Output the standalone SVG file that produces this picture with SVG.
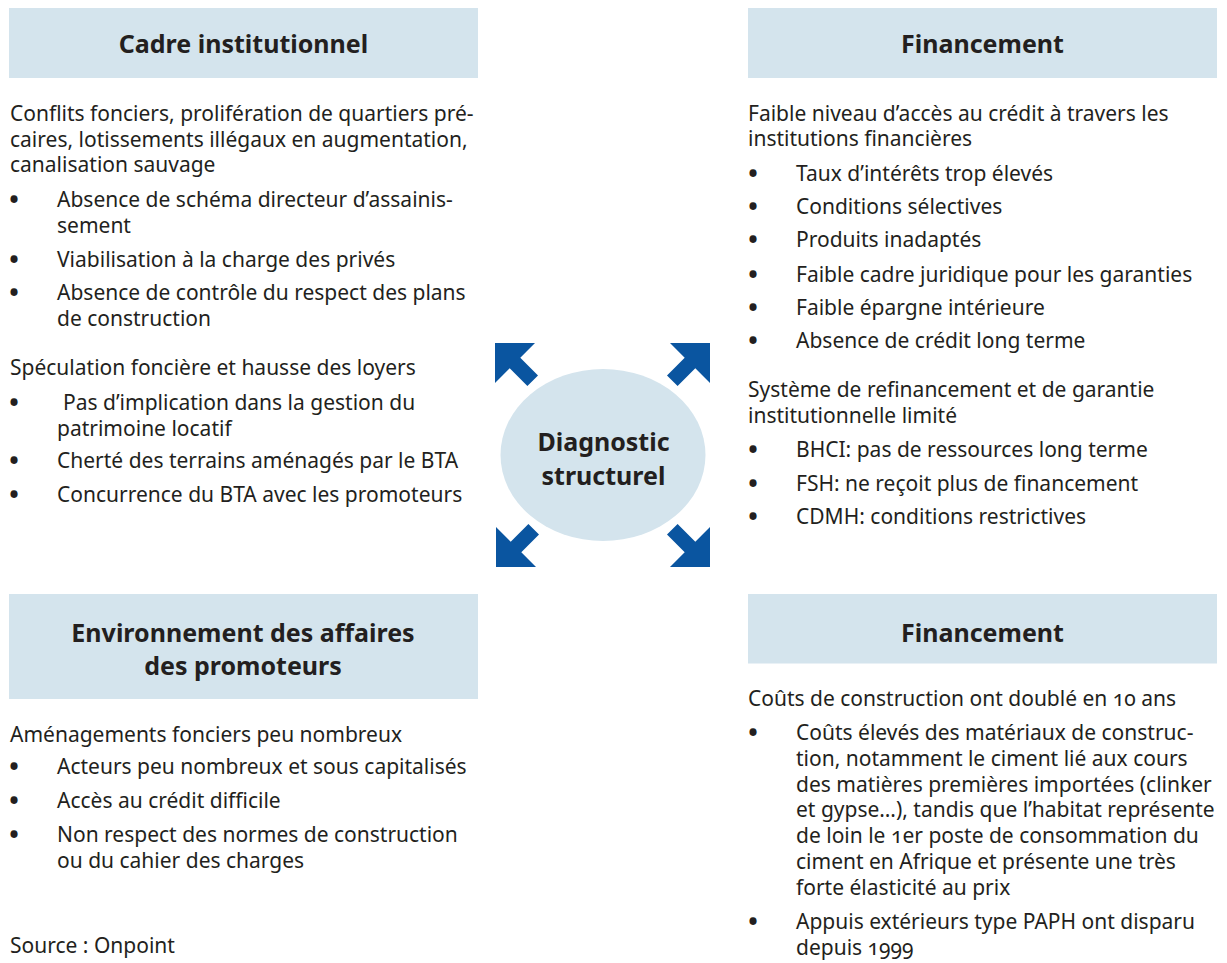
<svg xmlns="http://www.w3.org/2000/svg" xmlns:xlink="http://www.w3.org/1999/xlink" width="1227" height="963" viewBox="0 0 1227 963">
<style>
.hdr{fill:#d4e4ed}
.h{font-family:"Noto Sans","Open Sans",sans-serif;font-weight:700;font-size:25px;fill:#231f20;text-anchor:middle}
.t{font-family:"Noto Sans","Open Sans",sans-serif;font-size:21px;fill:#231f20;font-variant-numeric:oldstyle-nums}
.b{font-family:"Noto Sans","Open Sans",sans-serif;font-size:24px;fill:#231f20;stroke:#231f20;stroke-width:1.8px;text-anchor:middle}
.arrow{fill:#0a55a0}
</style>
<defs>
<polygon id="arr" points="0,0 40,0 25.3,14.7 43,32.4 32.4,43 14.7,25.3 0,40"/>
</defs>
<rect width="1227" height="963" fill="#ffffff"/>

<g id="cadre-institutionnel">
<rect class="hdr" x="9" y="8" width="469" height="70"/>
<text class="h" x="243.5" y="53">Cadre institutionnel</text>
<text class="t" x="10" y="121">Conflits fonciers, prolifération de quartiers pré-</text>
<text class="t" x="10" y="146.5">caires, lotissements illégaux en augmentation,</text>
<text class="t" x="10" y="172">canalisation sauvage</text>
<text class="b" x="14" y="207.7">•</text>
<text class="t" x="57" y="206.7">Absence de schéma directeur d’assainis-</text>
<text class="t" x="57" y="232.5">sement</text>
<text class="b" x="14" y="268">•</text>
<text class="t" x="57" y="267">Viabilisation à la charge des privés</text>
<text class="b" x="14" y="301">•</text>
<text class="t" x="57" y="300">Absence de contrôle du respect des plans</text>
<text class="t" x="57" y="326">de construction</text>
<text class="t" x="10" y="375">Spéculation foncière et hausse des loyers</text>
<text class="b" x="14" y="411">•</text>
<text class="t" x="63" y="410">Pas d’implication dans la gestion du</text>
<text class="t" x="57" y="436">patrimoine locatif</text>
<text class="b" x="14" y="469">•</text>
<text class="t" x="57" y="468">Cherté des terrains aménagés par le BTA</text>
<text class="b" x="14" y="503">•</text>
<text class="t" x="57" y="502">Concurrence du BTA avec les promoteurs</text>
</g>

<g id="financement-1">
<rect class="hdr" x="748" y="8" width="469" height="70"/>
<text class="h" x="982.5" y="53">Financement</text>
<text class="t" x="748" y="120.7">Faible niveau d’accès au crédit à travers les</text>
<text class="t" x="748" y="146">institutions financières</text>
<text class="b" x="753" y="181.7">•</text>
<text class="t" x="796" y="180.7">Taux d’intérêts trop élevés</text>
<text class="b" x="753" y="215">•</text>
<text class="t" x="796" y="214">Conditions sélectives</text>
<text class="b" x="753" y="248.3">•</text>
<text class="t" x="796" y="247.3">Produits inadaptés</text>
<text class="b" x="753" y="282.7">•</text>
<text class="t" x="796" y="281.7">Faible cadre juridique pour les garanties</text>
<text class="b" x="753" y="316">•</text>
<text class="t" x="796" y="315">Faible épargne intérieure</text>
<text class="b" x="753" y="349.3">•</text>
<text class="t" x="796" y="348.3">Absence de crédit long terme</text>
<text class="t" x="748" y="396.7">Système de refinancement et de garantie</text>
<text class="t" x="748" y="423.3">institutionnelle limité</text>
<text class="b" x="753" y="458.3">•</text>
<text class="t" x="796" y="457.3">BHCI: pas de ressources long terme</text>
<text class="b" x="753" y="491.7">•</text>
<text class="t" x="796" y="490.7">FSH: ne reçoit plus de financement</text>
<text class="b" x="753" y="525">•</text>
<text class="t" x="796" y="524">CDMH: conditions restrictives</text>
</g>

<g id="environnement-affaires">
<rect class="hdr" x="9" y="594" width="469" height="105"/>
<text class="h" x="243" y="641.7">Environnement des affaires</text>
<text class="h" x="243" y="675">des promoteurs</text>
<text class="t" x="10" y="741.7">Aménagements fonciers peu nombreux</text>
<text class="b" x="14" y="775.3">•</text>
<text class="t" x="57" y="774.3">Acteurs peu nombreux et sous capitalisés</text>
<text class="b" x="14" y="809.3">•</text>
<text class="t" x="57" y="808.3">Accès au crédit difficile</text>
<text class="b" x="14" y="843.3">•</text>
<text class="t" x="57" y="842.3">Non respect des normes de construction</text>
<text class="t" x="57" y="867.7">ou du cahier des charges</text>
</g>

<g id="financement-2">
<rect class="hdr" x="748" y="594" width="469" height="69.5"/>
<text class="h" x="982.5" y="641.7">Financement</text>
<text class="t" x="748" y="706">Coûts de construction ont doublé en 10 ans</text>
<text class="b" x="753" y="741">•</text>
<text class="t" x="796" y="740">Coûts élevés des matériaux de construc-</text>
<text class="t" x="796" y="766">tion, notamment le ciment lié aux cours</text>
<text class="t" x="796" y="791.7">des matières premières importées (clinker</text>
<text class="t" x="796" y="817.3">et gypse…), tandis que l’habitat représente</text>
<text class="t" x="796" y="843.3">de loin le 1er poste de consommation du</text>
<text class="t" x="796" y="869.3">ciment en Afrique et présente une très</text>
<text class="t" x="796" y="895">forte élasticité au prix</text>
<text class="b" x="753" y="930.3">•</text>
<text class="t" x="796" y="929.3">Appuis extérieurs type PAPH ont disparu</text>
<text class="t" x="796" y="955.3">depuis 1999</text>
</g>

<g id="diagnostic-structurel">
<ellipse cx="603" cy="455" rx="102.5" ry="86" fill="#d4e4ed"/>
<text class="h" x="603.5" y="450.7">Diagnostic</text>
<text class="h" x="603.5" y="485">structurel</text>
</g>

<g id="connectors" class="arrow">
<use xlink:href="#arr" transform="translate(495,343)"/>
<use xlink:href="#arr" transform="translate(710,343) scale(-1,1)"/>
<use xlink:href="#arr" transform="translate(496,567) scale(1,-1)"/>
<use xlink:href="#arr" transform="translate(710,567) scale(-1,-1)"/>
</g>

<g id="source">
<text class="t" x="10" y="953.3">Source : Onpoint</text>
</g>
</svg>
